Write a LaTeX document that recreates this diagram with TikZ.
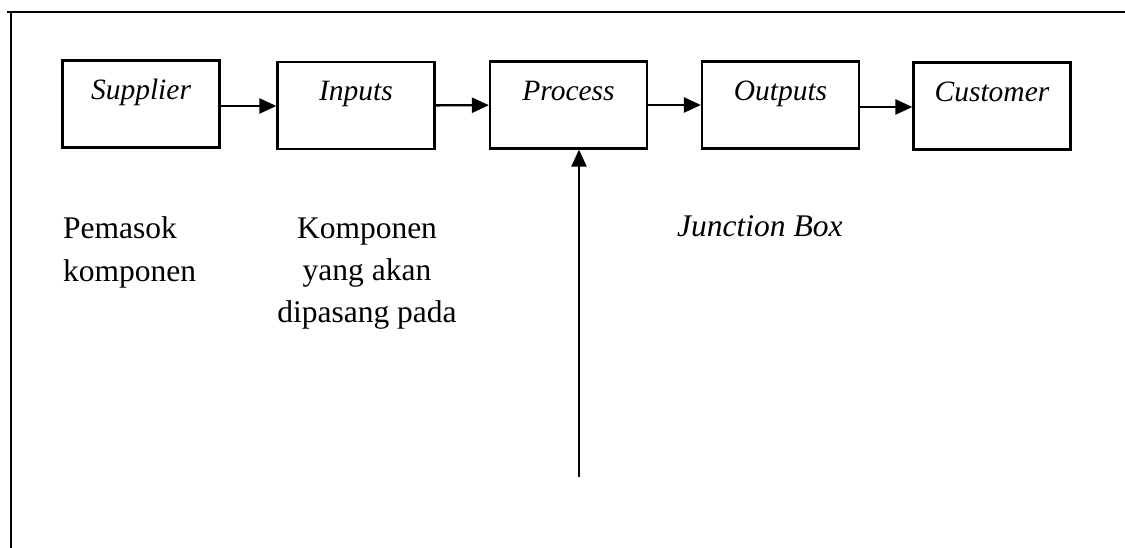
\documentclass[tikz,border=0pt]{standalone}
\usepackage{fontspec}
\setmainfont{Liberation Serif}
\usetikzlibrary{arrows.meta}
\begin{document}
\begin{tikzpicture}[x=1pt,y=-1pt,
  stagebox/.style={draw, line width=2.2pt, rectangle, minimum width=157pt,
    minimum height=87pt, inner xsep=0pt, inner ysep=0pt,
    text height=39pt, text depth=48pt,
    font=\fontsize{29.5}{34}\selectfont\itshape},
  flow/.style={line width=2.4pt, -{Triangle[length=17pt,width=15pt]}},
  frameline/.style={line width=2.2pt},
  note/.style={font=\fontsize{31.5}{42.5}\selectfont, inner sep=0pt}]
\useasboundingbox (0,0) rectangle (1125,548);

% open frame: top and left edges
\coordinate (fa) at (7,12);
\coordinate (fb) at (1125,12);
\coordinate (fc) at (11,12);
\coordinate (fd) at (11,548);
\draw[frameline] (fa) -- (fb);
\draw[frameline] (fc) -- (fd);

% SIPOC chain
\node[stagebox] (sup) at (141,104) {Supplier};
\node[stagebox] (inp) at (356,105.5) {Inputs};
\node[stagebox] (pro) at (568.5,105) {Process};
\node[stagebox] (out) at (780.5,105) {Outputs};
\node[stagebox] (cus) at (992,106) {Customer};

\draw[flow] (sup.east |- 0,106) -- (inp.west |- 0,106);
\draw[flow] (inp) -- (pro);
\draw[flow] (pro) -- (out);
\draw[flow] (out.east |- 0,107) -- (cus.west |- 0,107);

% feed into the process from below
\coordinate (feed) at (579,477);
\draw[flow] (feed) -- (feed |- pro.south);

% descriptions (base anchor sits on the last line)
\node[note, anchor=base west, align=left] (dsup) at (63,281)
  {Pemasok\\komponen};
\node[note, anchor=base, align=center] (dinp) at (367,323)
  {Komponen\\yang akan\\dipasang pada};
\node[note, anchor=base west, font=\fontsize{31.5}{42.5}\selectfont\itshape]
  (dpro) at (677,237) {Junction Box};
\end{tikzpicture}
\end{document}
